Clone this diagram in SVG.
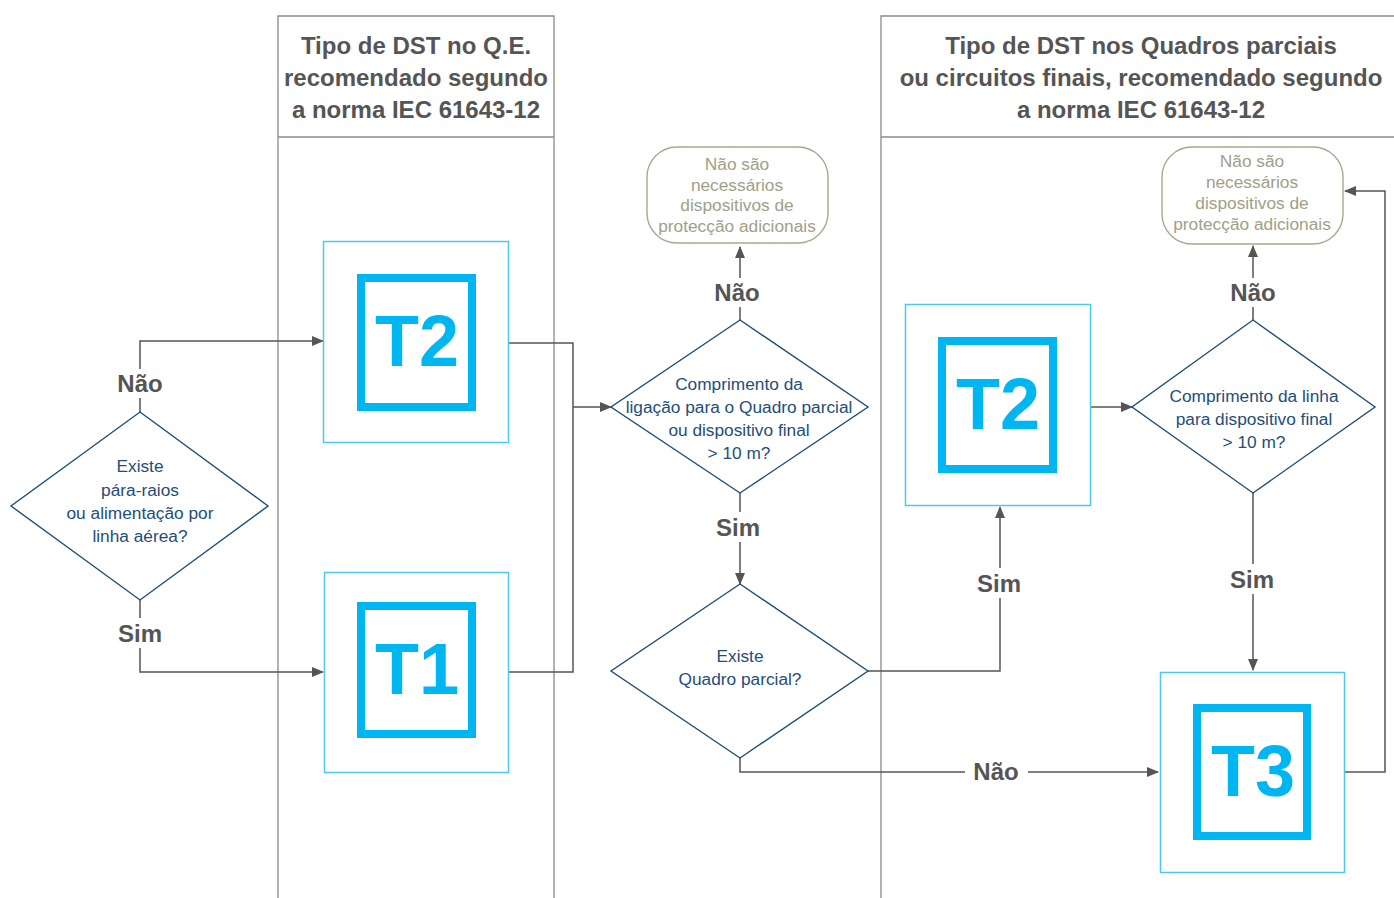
<svg xmlns="http://www.w3.org/2000/svg" width="1394" height="898" viewBox="0 0 1394 898">
<defs>
<marker id="ah" markerWidth="12" markerHeight="10" refX="11" refY="5" orient="auto" markerUnits="userSpaceOnUse">
<path d="M0,0 L12,5 L0,10 Z" fill="#555"/>
</marker>
<style>
.col{stroke:#8a8a8a;stroke-width:1.3;fill:none}
.hd{font-family:"Liberation Sans",Arial,sans-serif;font-weight:bold;font-size:24px;fill:#555;text-anchor:middle}
.lbl{font-family:"Liberation Sans",Arial,sans-serif;font-weight:bold;font-size:24px;fill:#555;text-anchor:middle}
.dia{fill:#fff;stroke:#1f4e79;stroke-width:1.4}
.dt{font-family:"Liberation Sans",Arial,sans-serif;font-size:17.3px;fill:#1f4e79;text-anchor:middle}
.ob{fill:#fff;stroke:#4cc9f0;stroke-width:1.5}
.ib{fill:none;stroke:#00b6f0;stroke-width:8}
.tt{font-family:"Liberation Sans",Arial,sans-serif;font-weight:bold;font-size:72px;fill:#00b6f0;text-anchor:middle}
.rb{fill:#fff;stroke:#a8a890;stroke-width:1.4}
.rt{font-family:"Liberation Sans",Arial,sans-serif;font-size:17.3px;fill:#a0a088;text-anchor:middle}
.cn{fill:none;stroke:#555;stroke-width:1.5}
</style>
</defs>
<rect width="1394" height="898" fill="#fff"/>
<g id="columns">
<path class="col" d="M278,898 V16 H554 V898 M278,137 H554"/>
<path class="col" d="M881,898 V16 H1394 M881,137 H1394"/>
<text class="hd" x="416" y="54">Tipo de DST no Q.E.</text>
<text class="hd" x="416" y="86">recomendado segundo</text>
<text class="hd" x="416" y="118">a norma IEC 61643-12</text>
<text class="hd" x="1141" y="54">Tipo de DST nos Quadros parciais</text>
<text class="hd" x="1141" y="86">ou circuitos finais, recomendado segundo</text>
<text class="hd" x="1141" y="118">a norma IEC 61643-12</text>
</g>
<g id="connectors">
<path class="cn" d="M140,412 V398"/>
<path class="cn" d="M140,369 V341 H323" marker-end="url(#ah)"/>
<path class="cn" d="M140,600 V618"/>
<path class="cn" d="M140,648 V672 H323" marker-end="url(#ah)"/>
<path class="cn" d="M509,343 H573 V672 H509"/>
<path class="cn" d="M573,407 H611" marker-end="url(#ah)"/>
<path class="cn" d="M740,320 V307"/>
<path class="cn" d="M740,278 V247" marker-end="url(#ah)"/>
<path class="cn" d="M740,493 V512"/>
<path class="cn" d="M740,542 V584" marker-end="url(#ah)"/>
<path class="cn" d="M868,671 H1000 V598"/>
<path class="cn" d="M1000,568 V507" marker-end="url(#ah)"/>
<path class="cn" d="M740,758 V772 H965"/>
<path class="cn" d="M1028,772 H1158" marker-end="url(#ah)"/>
<path class="cn" d="M1090,407 H1132" marker-end="url(#ah)"/>
<path class="cn" d="M1253,320 V307"/>
<path class="cn" d="M1253,278 V246" marker-end="url(#ah)"/>
<path class="cn" d="M1253,493 V564"/>
<path class="cn" d="M1253,594 V670" marker-end="url(#ah)"/>
<path class="cn" d="M1345,772 H1385 V191 H1345" marker-end="url(#ah)"/>
<text class="lbl" x="140" y="392">Não</text>
<text class="lbl" x="140" y="642">Sim</text>
<text class="lbl" x="737" y="301">Não</text>
<text class="lbl" x="738" y="536">Sim</text>
<text class="lbl" x="999" y="592">Sim</text>
<text class="lbl" x="996" y="780">Não</text>
<text class="lbl" x="1253" y="301">Não</text>
<text class="lbl" x="1252" y="588">Sim</text>
</g>
<g id="d1">
<polygon class="dia" points="140,412 268,506 140,600 11,506"/>
<text class="dt" x="140" y="472">Existe</text>
<text class="dt" x="140" y="496">pára-raios</text>
<text class="dt" x="140" y="519">ou alimentação por</text>
<text class="dt" x="140" y="542">linha aérea?</text>
</g>
<g id="t2a">
<rect class="ob" x="323.5" y="241.5" width="185" height="201"/>
<rect class="ib" x="361" y="278" width="111" height="129"/>
<text class="tt" x="417" y="366">T2</text>
</g>
<g id="t1">
<rect class="ob" x="324.5" y="572.5" width="184" height="200"/>
<rect class="ib" x="361" y="606" width="111" height="128"/>
<text class="tt" x="417" y="694">T1</text>
</g>
<g id="d2">
<polygon class="dia" points="740,320 868,407 740,493 611,407"/>
<text class="dt" x="739" y="390">Comprimento da</text>
<text class="dt" x="739" y="413">ligação para o Quadro parcial</text>
<text class="dt" x="739" y="436">ou dispositivo final</text>
<text class="dt" x="739" y="459">&gt; 10 m?</text>
</g>
<g id="r1">
<rect class="rb" x="647" y="147" width="181" height="96" rx="30"/>
<text class="rt" x="737" y="170">Não são</text>
<text class="rt" x="737" y="191">necessários</text>
<text class="rt" x="737" y="211">dispositivos de</text>
<text class="rt" x="737" y="232">protecção adicionais</text>
</g>
<g id="d3">
<polygon class="dia" points="740,584 868,671 740,758 611,671"/>
<text class="dt" x="740" y="662">Existe</text>
<text class="dt" x="740" y="685">Quadro parcial?</text>
</g>
<g id="t2b">
<rect class="ob" x="905.5" y="304.5" width="185" height="201"/>
<rect class="ib" x="942" y="341" width="111" height="128"/>
<text class="tt" x="998" y="429">T2</text>
</g>
<g id="d4">
<polygon class="dia" points="1253,320 1375,407 1253,493 1132,407"/>
<text class="dt" x="1254" y="402">Comprimento da linha</text>
<text class="dt" x="1254" y="425">para dispositivo final</text>
<text class="dt" x="1254" y="448">&gt; 10 m?</text>
</g>
<g id="r2">
<rect class="rb" x="1162" y="147" width="181" height="97" rx="30"/>
<text class="rt" x="1252" y="167">Não são</text>
<text class="rt" x="1252" y="188">necessários</text>
<text class="rt" x="1252" y="209">dispositivos de</text>
<text class="rt" x="1252" y="230">protecção adicionais</text>
</g>
<g id="t3">
<rect class="ob" x="1160.5" y="672.5" width="184" height="200"/>
<rect class="ib" x="1197" y="708" width="110" height="128"/>
<text class="tt" x="1253" y="796">T3</text>
</g>
</svg>
